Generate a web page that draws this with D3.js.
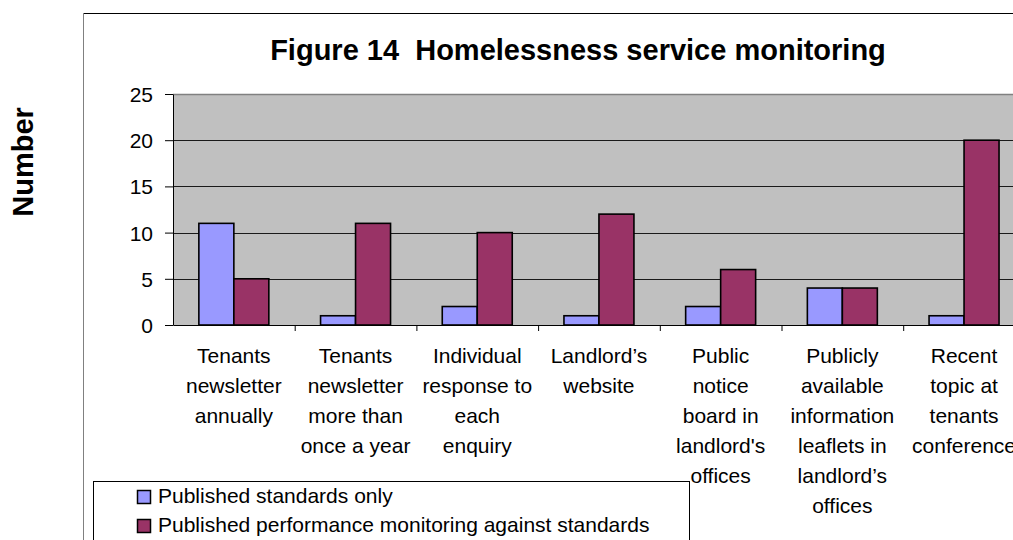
<!DOCTYPE html>
<html>
<head>
<meta charset="utf-8">
<script src="https://cdn.jsdelivr.net/npm/d3@7"></script>
<style>
  html, body { margin: 0; padding: 0; background: #fff; }
  svg { display: block; font-family: Arial, "Liberation Sans", sans-serif; }
</style>
</head>
<body>
<svg id="chart" width="1013" height="540"></svg>
<script>
// data
const categories = [
  ["Tenants", "newsletter", "annually"],
  ["Tenants", "newsletter", "more than", "once a year"],
  ["Individual", "response to", "each", "enquiry"],
  ["Landlord\u2019s", "website"],
  ["Public", "notice", "board in", "landlord's", "offices"],
  ["Publicly", "available", "information", "leaflets in", "landlord\u2019s", "offices"],
  ["Recent", "topic at", "tenants", "conference"]
];
const seriesNames = ["Published standards only", "Published performance monitoring against standards"];
const standardsOnly = [11, 1, 2, 1, 2, 4, 1];
const performanceMonitoring = [5, 11, 10, 12, 6, 4, 20];
const yTicks = [0, 5, 10, 15, 20, 25];
const colors = ["#9999FF", "#993366"];

window.addEventListener("DOMContentLoaded", () => {
  const svg = d3.select("#chart");

  // 1) chart frame
  svg.append("line").attr("x1", 83).attr("x2", 1013).attr("y1", 13.5).attr("y2", 13.5)
    .attr("stroke", "#000").attr("stroke-width", 1);
  svg.append("line").attr("x1", 83.5).attr("x2", 83.5).attr("y1", 13).attr("y2", 540)
    .attr("stroke", "#808080").attr("stroke-width", 1);

  // 2) scales
  const left = 173, top = 94, bottom = 325, catW = 121.7;
  const idx = d3.range(categories.length);
  const x = d3.scaleBand().domain(idx).range([left, left + catW * categories.length]).padding(0);
  const xs = d3.scaleBand().domain([0, 1]).range([0, x.bandwidth()]).paddingInner(0).paddingOuter(0.739);
  const xLin = d3.scaleLinear().domain([0, categories.length]).range(x.range());
  const y = d3.scaleLinear().domain([0, 25]).range([bottom, top]);

  // plot area
  svg.append("rect")
    .attr("x", left).attr("y", top)
    .attr("width", x.range()[1] - left).attr("height", bottom - top)
    .attr("fill", "#C0C0C0");
  svg.append("line").attr("x1", left).attr("x2", x.range()[1])
    .attr("y1", top + 0.5).attr("y2", top + 0.5)
    .attr("stroke", "#808080").attr("stroke-width", 1.5);

  // gridlines
  svg.append("g").selectAll("line")
    .data(yTicks.filter(d => d > 0 && d < 25))
    .join("line")
      .attr("x1", left).attr("x2", x.range()[1])
      .attr("y1", d => Math.round(y(d)) + 0.5).attr("y2", d => Math.round(y(d)) + 0.5)
      .attr("stroke", "#1a1a1a").attr("stroke-width", 1);

  // 3) bars
  const rows = idx.map(i => [standardsOnly[i], performanceMonitoring[i]]);
  svg.append("g").selectAll("g")
    .data(rows)
    .join("g")
      .attr("transform", (d, i) => `translate(${x(i)},0)`)
    .selectAll("rect")
    .data(d => d.map((v, s) => ({ v, s })))
    .join("rect")
      .attr("x", d => xs(d.s))
      .attr("y", d => y(d.v))
      .attr("width", xs.bandwidth())
      .attr("height", d => y(0) - y(d.v))
      .attr("fill", d => colors[d.s])
      .attr("stroke", "#000")
      .attr("stroke-width", 1.6);

  // 4) axes
  const yAxis = svg.append("g")
    .attr("transform", `translate(${left},0)`)
    .call(d3.axisLeft(y).tickValues(yTicks).tickSize(8).tickPadding(12).tickSizeOuter(0));
  yAxis.select(".domain").attr("stroke", "#000");
  yAxis.selectAll(".tick line").attr("stroke", "#000");
  yAxis.selectAll(".tick text")
    .attr("font-size", 21).attr("fill", "#000")
    .attr("font-family", "Arial, 'Liberation Sans', sans-serif")
    .attr("dy", "0.36em");

  const xAxis = svg.append("g")
    .attr("transform", `translate(0,${bottom})`)
    .call(d3.axisBottom(xLin).tickValues(d3.range(1, categories.length + 1)).tickSize(6).tickSizeOuter(0).tickFormat(""));
  xAxis.select(".domain").attr("stroke", "#000");
  xAxis.selectAll(".tick line").attr("stroke", "#000");

  // category labels
  const labels = svg.append("g").selectAll("text")
    .data(categories)
    .join("text")
      .attr("text-anchor", "middle")
      .attr("font-size", 21)
      .attr("fill", "#000");
  labels.selectAll("tspan")
    .data((d, i) => d.map((t, k) => ({ t, k, i })))
    .join("tspan")
      .attr("x", d => x(d.i) + x.bandwidth() / 2)
      .attr("y", d => 363 + d.k * 30)
      .text(d => d.t);

  // 5) titles
  svg.append("text")
    .attr("x", 578).attr("y", 60)
    .attr("text-anchor", "middle")
    .attr("font-size", 29).attr("font-weight", "bold")
    .attr("xml:space", "preserve")
    .text("Figure 14  Homelessness service monitoring");

  svg.append("text")
    .attr("transform", "translate(33,162) rotate(-90)")
    .attr("text-anchor", "middle")
    .attr("font-size", 29).attr("font-weight", "bold")
    .text("Number");

  // 6) legend
  const legend = svg.append("g");
  legend.append("rect")
    .attr("x", 93.5).attr("y", 481.5)
    .attr("width", 596).attr("height", 80)
    .attr("fill", "#fff").attr("stroke", "#000").attr("stroke-width", 1);
  const items = legend.selectAll("g.item")
    .data(seriesNames)
    .join("g")
      .attr("class", "item")
      .attr("transform", (d, i) => `translate(137,${490 + i * 29})`);
  items.append("rect")
    .attr("x", 0.5).attr("y", 0.5)
    .attr("width", 13).attr("height", 13)
    .attr("fill", (d, i) => colors[i])
    .attr("stroke", "#000").attr("stroke-width", 1.5);
  items.append("text")
    .attr("x", 21).attr("y", 13)
    .attr("font-size", 21)
    .text(d => d);
});
</script>
</body>
</html>
